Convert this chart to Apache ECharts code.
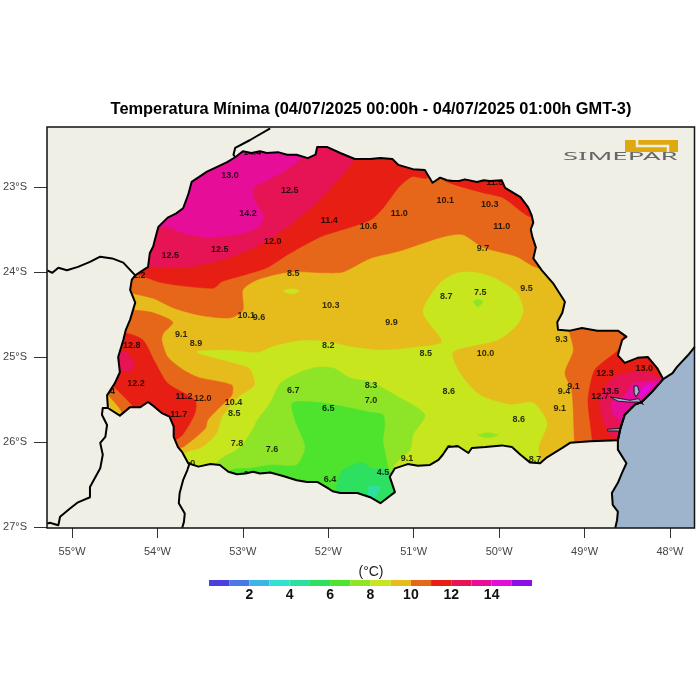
<!DOCTYPE html>
<html>
<head>
<meta charset="utf-8">
<script src="https://cdn.jsdelivr.net/npm/echarts@6/dist/echarts.min.js"></script>
<style>html,body{margin:0;padding:0;background:#fff}#main{width:700px;height:700px}</style>
</head>
<body>
<div id="main"></div>
<script>
var lonMin=-55.293, lonMax=-47.713, latMin=-27.012, latMax=-22.294
var lonTicks=[-55,-54,-53,-52,-51,-50,-49,-48]
var latTicks=[-27,-26,-25,-24,-23]
var barTicks=[2,4,6,8,10,12,14]
var barLevels=[0,1,2,3,4,5,6,7,8,9,10,11,12,13,14,15]
var levelColors=['#4a3fe0','#4a78e6','#3cb4e8','#32e0d2','#2ee0a0','#2ee05f','#4ee32c','#8ee528','#c8e61e','#e6bc1c','#e6671a','#e61e14','#e61454','#e60e98','#e00ed8','#8c0ee6']

//limite do estado
var stateBorder=[[-54.26,-24.04],[-54.11,-23.94],[-54.09,-23.78],[-54.05,-23.70],[-54.03,-23.62],[-53.99,-23.47],[-53.88,-23.36],[-53.78,-23.31],[-53.70,-23.25],[-53.64,-23.09],[-53.60,-22.94],[-53.42,-22.82],[-53.19,-22.71],[-53.09,-22.65],[-53.00,-22.58],[-52.90,-22.60],[-52.80,-22.58],[-52.72,-22.60],[-52.59,-22.59],[-52.48,-22.62],[-52.37,-22.62],[-52.24,-22.66],[-52.15,-22.62],[-52.13,-22.53],[-52.01,-22.53],[-51.86,-22.60],[-51.69,-22.67],[-51.51,-22.67],[-51.39,-22.66],[-51.25,-22.67],[-51.18,-22.74],[-51.01,-22.79],[-50.87,-22.80],[-50.78,-22.95],[-50.69,-22.89],[-50.61,-22.92],[-50.54,-22.93],[-50.47,-22.93],[-50.40,-22.91],[-50.26,-22.94],[-50.18,-22.92],[-50.11,-22.93],[-49.97,-22.92],[-49.93,-23.01],[-49.75,-23.12],[-49.66,-23.24],[-49.62,-23.33],[-49.60,-23.42],[-49.63,-23.50],[-49.61,-23.59],[-49.57,-23.71],[-49.60,-23.84],[-49.50,-23.98],[-49.37,-24.13],[-49.23,-24.35],[-49.26,-24.48],[-49.32,-24.59],[-49.31,-24.68],[-49.17,-24.69],[-49.03,-24.66],[-48.85,-24.69],[-48.61,-24.69],[-48.51,-24.76],[-48.56,-24.80],[-48.61,-24.98],[-48.53,-25.07],[-48.38,-25.01],[-48.26,-25.00],[-48.15,-25.13],[-48.08,-25.26],[-48.21,-25.41],[-48.33,-25.53],[-48.41,-25.56],[-48.53,-25.68],[-48.58,-25.84],[-48.61,-25.98],[-48.93,-25.99],[-49.17,-26.01],[-49.26,-26.07],[-49.44,-26.18],[-49.52,-26.25],[-49.64,-26.24],[-49.75,-26.15],[-49.85,-26.06],[-49.97,-26.04],[-50.16,-26.06],[-50.32,-26.07],[-50.36,-26.13],[-50.48,-26.05],[-50.60,-26.06],[-50.66,-26.15],[-50.71,-26.21],[-50.81,-26.27],[-50.95,-26.28],[-51.07,-26.26],[-51.22,-26.31],[-51.28,-26.41],[-51.22,-26.59],[-51.39,-26.72],[-51.51,-26.65],[-51.66,-26.60],[-51.86,-26.60],[-51.95,-26.58],[-52.01,-26.54],[-52.13,-26.47],[-52.25,-26.47],[-52.37,-26.45],[-52.53,-26.40],[-52.68,-26.36],[-52.80,-26.37],[-52.88,-26.35],[-52.97,-26.37],[-53.07,-26.38],[-53.17,-26.35],[-53.27,-26.27],[-53.38,-26.26],[-53.52,-26.29],[-53.64,-26.25],[-53.71,-26.12],[-53.76,-26.06],[-53.81,-25.94],[-53.81,-25.82],[-53.86,-25.70],[-53.95,-25.66],[-54.03,-25.59],[-54.11,-25.53],[-54.20,-25.59],[-54.32,-25.59],[-54.44,-25.69],[-54.58,-25.60],[-54.59,-25.45],[-54.50,-25.31],[-54.44,-25.18],[-54.46,-25.00],[-54.40,-24.80],[-54.37,-24.68],[-54.32,-24.56],[-54.26,-24.36],[-54.32,-24.21],[-54.30,-24.09],[-54.26,-24.04]]
var paraguayBorder=[[-54.26,-24.04],[-54.40,-23.89],[-54.53,-23.84],[-54.67,-23.82],[-54.79,-23.88],[-54.93,-23.94],[-55.06,-23.98],[-55.16,-23.95],[-55.23,-24.01],[-55.29,-23.98]]
var msBorder=[[-53.09,-22.65],[-53.11,-22.62],[-53.09,-22.54],[-52.92,-22.45],[-52.68,-22.31]]
var argBorder=[[-54.58,-25.60],[-54.64,-25.60],[-54.65,-25.68],[-54.59,-25.80],[-54.61,-25.94],[-54.67,-26.01],[-54.64,-26.15],[-54.67,-26.31],[-54.79,-26.53],[-54.79,-26.65],[-54.93,-26.71],[-55.02,-26.78],[-55.14,-26.88],[-55.16,-26.98],[-55.26,-26.95],[-55.29,-26.96]]
var scBorder=[[-53.62,-26.24],[-53.65,-26.33],[-53.70,-26.45],[-53.74,-26.60],[-53.75,-26.72],[-53.68,-26.84],[-53.69,-26.94],[-53.71,-27.01]]
var coastLine=[[-47.71,-24.88],[-47.79,-24.98],[-47.92,-25.12],[-47.97,-25.19],[-48.08,-25.26],[-48.21,-25.41],[-48.33,-25.53],[-48.41,-25.56],[-48.53,-25.68],[-48.58,-25.84],[-48.61,-25.98],[-48.61,-26.09],[-48.51,-26.25],[-48.56,-26.36],[-48.61,-26.48],[-48.68,-26.60],[-48.67,-26.74],[-48.61,-26.82],[-48.62,-26.92],[-48.64,-27.01]]
var oceanCorner=[[-47.713,-27.012],[-47.713,-24.88]]
var paranaguaBay=[[-48.70,-25.47],[-48.58,-25.49],[-48.47,-25.51],[-48.37,-25.49],[-48.31,-25.56],[-48.37,-25.53],[-48.49,-25.53],[-48.61,-25.52]]
var laranjeirasBay=[[-48.42,-25.34],[-48.38,-25.34],[-48.36,-25.41],[-48.40,-25.47],[-48.42,-25.42]]
var guaratubaBay=[[-48.73,-25.85],[-48.58,-25.84],[-48.58,-25.87],[-48.73,-25.87]]

//isotermas
var baseArea=[[lonMin,latMax],[lonMax,latMax],[lonMax,latMin],[lonMin,latMin]]
var north10=[[-54.67,-24.07],[-54.32,-24.24],[-54.05,-24.31],[-53.82,-24.42],[-53.50,-24.51],[-53.15,-24.54],[-53.00,-24.45],[-53.00,-24.21],[-52.83,-24.09],[-52.45,-24.00],[-52.01,-24.01],[-51.83,-24.00],[-51.51,-23.84],[-51.19,-23.76],[-50.67,-23.59],[-50.43,-23.56],[-50.19,-23.71],[-49.79,-23.82],[-49.58,-23.94],[-49.2,-24.0],[-49.2,-22.4],[-54.7,-22.4]]
var north11=[[-54.7,-23.9],[-54.20,-24.04],[-53.93,-24.13],[-53.35,-24.19],[-53.24,-24.11],[-53.00,-24.04],[-52.72,-23.95],[-52.45,-23.78],[-52.10,-23.59],[-51.86,-23.51],[-51.51,-23.39],[-51.36,-23.25],[-51.18,-23.01],[-51.02,-22.88],[-50.84,-22.89],[-50.8,-22.4],[-54.7,-22.4]]
var northEast11=[[-50.69,-22.89],[-50.22,-23.06],[-49.95,-23.13],[-49.64,-23.35],[-49.4,-23.3],[-49.4,-22.6],[-50.69,-22.6]]
var north12=[[-54.7,-23.9],[-54.09,-23.94],[-53.89,-23.95],[-53.62,-23.94],[-53.19,-23.84],[-52.80,-23.68],[-52.41,-23.42],[-52.10,-23.15],[-51.69,-22.67],[-51.6,-22.4],[-54.7,-22.4]]
var north13=[[-53.89,-23.47],[-53.70,-23.54],[-53.42,-23.59],[-53.07,-23.56],[-52.83,-23.48],[-52.76,-23.36],[-52.88,-23.12],[-52.88,-23.01],[-52.56,-22.84],[-52.30,-22.64],[-52.2,-22.4],[-54.7,-22.4],[-54.7,-23.4]]
var west10=[[-54.67,-24.45],[-54.26,-24.45],[-54.05,-24.48],[-53.82,-24.59],[-53.93,-24.72],[-53.95,-24.80],[-53.88,-25.00],[-53.70,-25.15],[-53.52,-25.24],[-53.13,-25.33],[-53.13,-25.45],[-53.30,-25.62],[-53.41,-25.74],[-53.44,-25.84],[-53.70,-26.06],[-53.76,-26.06],[-54.20,-25.86],[-54.67,-25.74]]
var westWedge9=[[-54.67,-25.33],[-54.58,-25.45],[-54.44,-25.62],[-54.38,-25.80],[-54.73,-25.80]]
var west11=[[-54.61,-24.80],[-54.50,-24.72],[-54.36,-24.72],[-54.17,-24.80],[-54.03,-25.06],[-53.88,-25.31],[-53.56,-25.51],[-53.56,-25.66],[-53.71,-25.92],[-53.82,-25.98],[-53.97,-25.80],[-54.26,-25.62],[-54.32,-25.54],[-54.51,-25.35],[-54.61,-25.27]]
var west12=[[-54.55,-24.94],[-54.41,-24.94],[-54.36,-24.95],[-54.27,-25.07],[-54.32,-25.18],[-54.41,-25.16],[-54.55,-25.15]]
var east10=[[-49.18,-24.56],[-49.18,-24.69],[-49.13,-24.92],[-49.23,-25.19],[-49.15,-25.39],[-49.12,-25.98],[-49.12,-26.15],[-47.9,-26.15],[-47.9,-24.56]]
var east11=[[-48.76,-25.04],[-48.88,-25.15],[-48.93,-25.31],[-48.96,-25.53],[-48.91,-25.98],[-48.91,-26.15],[-47.9,-26.15],[-47.9,-24.7],[-48.5,-24.7],[-48.61,-24.92]]
var east12=[[-48.73,-25.31],[-48.62,-25.21],[-48.38,-25.18],[-48.21,-25.19],[-48.11,-25.26],[-47.9,-25.3],[-48.0,-26.1],[-48.61,-26.1],[-48.61,-25.96],[-48.70,-25.92],[-48.79,-25.72],[-48.82,-25.47]]
var east13=[[-48.68,-25.53],[-48.53,-25.45],[-48.43,-25.31],[-48.23,-25.29],[-48.06,-25.25],[-48.00,-25.51],[-48.35,-25.86],[-48.56,-25.84],[-48.58,-25.76],[-48.67,-25.65]]
var east14=[[-48.36,-25.44],[-48.30,-25.35],[-48.20,-25.32],[-48.26,-25.41],[-48.33,-25.47]]
var below9=[[-53.70,-26.15],[-53.47,-26.06],[-53.30,-25.89],[-53.24,-25.71],[-53.06,-25.48],[-52.86,-25.33],[-52.92,-25.13],[-53.03,-25.09],[-53.54,-24.94],[-53.19,-24.92],[-52.83,-24.95],[-52.65,-24.88],[-52.33,-24.81],[-52.01,-24.82],[-51.74,-24.88],[-51.39,-24.92],[-51.01,-24.89],[-50.67,-24.82],[-50.89,-24.47],[-50.69,-24.13],[-50.48,-24.01],[-50.26,-24.01],[-50.02,-24.09],[-49.79,-24.25],[-49.72,-24.45],[-49.79,-24.62],[-50.02,-24.80],[-50.54,-24.94],[-50.46,-25.19],[-50.22,-25.45],[-49.87,-25.56],[-49.60,-25.54],[-49.44,-25.78],[-49.54,-26.06],[-49.52,-26.33],[-50.0,-26.8],[-53.0,-26.8],[-53.8,-26.4]]
var spot8=[[-52.53,-24.22],[-52.42,-24.20],[-52.34,-24.22],[-52.42,-24.26]]
var below8=[[-53.30,-26.24],[-53.03,-26.06],[-52.88,-25.84],[-52.83,-25.74],[-52.68,-25.54],[-52.56,-25.31],[-52.33,-25.18],[-52.13,-25.12],[-51.94,-25.13],[-51.74,-25.25],[-51.51,-25.29],[-51.16,-25.48],[-50.87,-25.68],[-51.01,-25.92],[-51.04,-26.09],[-51.14,-26.18],[-51.24,-26.31],[-51.0,-26.8],[-53.4,-26.6]]
var spot7a=[[-50.25,-25.92],[-50.13,-25.89],[-50.01,-25.92],[-50.13,-25.95]]
var spot7b=[[-50.30,-24.35],[-50.25,-24.32],[-50.19,-24.35],[-50.25,-24.41]]
var below7=[[-52.42,-25.54],[-52.06,-25.54],[-51.51,-25.65],[-51.36,-25.68],[-51.34,-25.82],[-51.36,-25.98],[-51.31,-26.25],[-51.28,-26.35],[-51.1,-26.8],[-53.2,-26.7],[-53.15,-26.34],[-52.92,-26.31],[-52.65,-26.27],[-52.37,-26.27],[-52.27,-26.06],[-52.39,-25.74]]
var below6=[[-51.89,-26.45],[-51.83,-26.33],[-51.60,-26.24],[-51.49,-26.31],[-51.30,-26.33],[-51.1,-26.8],[-51.9,-26.8]]
var below5=[[-51.53,-26.53],[-51.39,-26.53],[-51.43,-26.62],[-51.51,-26.68]]
var bands=[[9,baseArea],[10,north10],[11,north11],[11,northEast11],[12,north12],[13,north13],[10,west10],[9,westWedge9],[11,west11],[12,west12],[10,east10],[11,east11],[12,east12],[13,east13],[14,east14],[8,below9],[8,spot8],[7,below8],[7,spot7a],[7,spot7b],[6,below7],[5,below6],[4,below5]]

//estacoes
var stationLon=[-52.89,-53.15,-52.45,-52.94,-51.99,-51.17,-51.53,-52.65,-53.27,-53.85,-50.63,-50.11,-49.97,-50.05,-50.19,-52.41,-50.62,-50.22,-49.68,-51.97,-52.96,-52.81,-51.26,-53.72,-53.55,-54.30,-52.00,-50.86,-50.16,-49.27,-54.25,-52.41,-51.50,-49.13,-48.76,-48.30,-48.70,-48.82,-49.24,-50.59,-51.50,-53.69,-53.47,-53.11,-53.10,-52.00,-49.29,-53.75,-49.77,-53.07,-52.66,-51.08,-49.58,-51.36,-51.98,-54.24,-54.60,-53.63,-50.54,-52.92]
var stationLat=[-22.60,-22.87,-23.04,-23.31,-23.40,-23.31,-23.47,-23.64,-23.74,-23.81,-23.16,-23.21,-23.46,-22.95,-23.72,-24.02,-24.29,-24.24,-24.19,-24.39,-24.51,-24.53,-24.59,-24.74,-24.84,-24.87,-24.86,-24.96,-24.96,-24.79,-25.31,-25.39,-25.34,-25.35,-25.20,-25.14,-25.41,-25.47,-25.41,-25.41,-25.51,-25.47,-25.49,-25.53,-25.66,-25.61,-25.61,-25.68,-25.74,-26.02,-26.09,-26.20,-26.21,-26.36,-26.44,-24.04,-25.41,-26.25,-26.08,-26.38]
var stationTemp=[14.4,13.0,12.5,14.2,11.4,11.0,10.6,12.0,12.5,12.5,10.1,10.3,11.0,11.5,9.7,8.5,8.7,7.5,9.5,10.3,10.1,9.6,9.9,9.1,8.9,12.8,8.2,8.5,10.0,9.3,12.2,6.7,8.3,9.1,12.3,13.0,13.5,12.7,9.4,8.6,7.0,11.2,12.0,10.4,8.5,6.5,9.1,11.7,8.6,7.8,7.6,9.1,8.7,4.5,6.4,11.2,10.4,9.0,9.0,6.3]

var fontName='"Liberation Sans", Arial, sans-serif'

//anel externo com o estado como furo (sentido inverso)
function outside_ring(){
    var corners=[[lonMin,latMax],[lonMax,latMax],[lonMax,latMin],[lonMin,latMin],[lonMin,latMax]]
    var hole=stateBorder.slice().reverse()
    return corners.concat(hole).concat([[lonMin,latMax]])
}
function polygon_series(rings,fill,stroke,lineWidth,z){
    return {
        type:'custom',
        coordinateSystem:'cartesian2d',
        xAxisIndex:0,
        yAxisIndex:0,
        clip:true,
        silent:true,
        z:z,
        data:rings.map(function(r,i){return [i]}),
        renderItem:function(params,api){
            var idx=api.value(0)
            return {
                type:'polygon',
                shape:{points:rings[idx].map(function(p){return api.coord(p)})},
                style:{fill:fill,stroke:stroke,lineWidth:lineWidth}
            }
        }
    }
}
function line_series(points,z){
    return {
        type:'line',
        xAxisIndex:0,
        yAxisIndex:0,
        data:points,
        showSymbol:false,
        silent:true,
        z:z,
        lineStyle:{color:'#000',width:2,join:'round'}
    }
}

var stationData=[]
for(var i=0;i<stationTemp.length;i++){
    stationData.push([stationLon[i],stationLat[i],stationTemp[i]])
}

var series=[
    {
        type:'custom',
        coordinateSystem:'cartesian2d',
        xAxisIndex:0,
        yAxisIndex:0,
        clip:true,
        silent:true,
        z:1,
        data:bands.map(function(b,i){return [i]}),
        renderItem:function(params,api){
            var idx=api.value(0)
            var b=bands[idx]
            var c=levelColors[b[0]]
            return {
                type:'polygon',
                shape:{points:b[1].map(function(p){return api.coord(p)}),smooth:idx==0?0:0.25},
                style:{fill:c,stroke:c,lineWidth:0.5}
            }
        }
    },
    {
        type:'scatter',
        xAxisIndex:0,
        yAxisIndex:0,
        symbolSize:0,
        silent:true,
        z:2,
        data:stationData,
        label:{
            show:true,
            position:'inside',
            color:'#000',
            fontFamily:fontName,
            fontWeight:'bold',
            fontSize:9,
            formatter:function(p){return p.value[2].toFixed(1)}
        }
    },
    polygon_series([outside_ring()],'#f0efe6','none',0,3),
    polygon_series([coastLine.concat(oceanCorner)],'#9db4cc','none',0,4),
    polygon_series([paranaguaBay,laranjeirasBay,guaratubaBay],'#9db4cc','#000',0.8,5),
    line_series(stateBorder,6),
    line_series(paraguayBorder,6),
    line_series(msBorder,6),
    line_series(argBorder,6),
    line_series(scBorder,6),
    line_series(coastLine,6),
    {
        type:'custom',
        coordinateSystem:'cartesian2d',
        xAxisIndex:1,
        yAxisIndex:1,
        silent:true,
        data:barLevels.map(function(l){return [l,l+1]}),
        renderItem:function(params,api){
            var a=api.coord([api.value(0),1])
            var b=api.coord([api.value(1),0])
            return {
                type:'rect',
                shape:{x:a[0],y:a[1],width:b[0]-a[0],height:b[1]-a[1]},
                style:{fill:levelColors[api.value(0)]}
            }
        }
    }
]

var option={
    backgroundColor:'#fff',
    animation:false,
    title:[
        {
            text:'Temperatura Mínima (04/07/2025 00:00h - 04/07/2025 01:00h GMT-3)',
            left:366,
            top:96,
            textAlign:'center',
            textStyle:{fontFamily:fontName,fontWeight:'bold',fontSize:16.4,color:'#000'}
        },
        {
            text:'(°C)',
            left:366,
            top:560,
            textAlign:'center',
            textStyle:{fontFamily:fontName,fontWeight:'normal',fontSize:14,color:'#222'}
        }
    ],
    grid:[
        {left:47,top:127,width:647.5,height:401,show:true,backgroundColor:'#f0efe6',borderWidth:0},
        {left:209,top:580,width:323,height:6}
    ],
    xAxis:[
        {
            type:'value',
            gridIndex:0,
            min:lonMin,
            max:lonMax,
            splitLine:{show:false},
            axisLine:{show:false},
            axisTick:{show:true,customValues:lonTicks,length:10,lineStyle:{color:'#333',width:1}},
            axisLabel:{
                customValues:lonTicks,
                margin:18,
                color:'#444',
                fontFamily:fontName,
                fontSize:11,
                formatter:function(v){return Math.abs(v)+'°W'}
            }
        },
        {
            type:'value',
            gridIndex:1,
            min:0,
            max:16,
            splitLine:{show:false},
            axisLine:{show:false},
            axisTick:{show:false},
            axisLabel:{
                customValues:barTicks,
                margin:2,
                color:'#111',
                fontFamily:fontName,
                fontWeight:'bold',
                fontSize:14
            }
        }
    ],
    yAxis:[
        {
            type:'value',
            gridIndex:0,
            min:latMin,
            max:latMax,
            splitLine:{show:false},
            axisLine:{show:false},
            axisTick:{show:true,customValues:latTicks,length:13,lineStyle:{color:'#333',width:1}},
            axisLabel:{
                customValues:latTicks,
                margin:20,
                color:'#444',
                fontFamily:fontName,
                fontSize:11,
                formatter:function(v){return Math.abs(v)+'°S'}
            }
        },
        {
            type:'value',
            gridIndex:1,
            min:0,
            max:1,
            show:false
        }
    ],
    series:series,
    graphic:[
        {type:'rect',z:100,silent:true,shape:{x:47,y:127,width:647.5,height:401},style:{fill:null,stroke:'#111',lineWidth:1.5}},
        {type:'rect',z:101,silent:true,shape:{x:625,y:140,width:53,height:12},style:{fill:'#e0a80f'}},
        {type:'polyline',z:102,silent:true,shape:{points:[[637,140],[637,146],[668,146],[668,152]]},style:{fill:null,stroke:'#f0efe6',lineWidth:2.5}},
        {type:'text',z:103,silent:true,x:563,y:151,scaleX:2.5,scaleY:1,style:{text:'SIMEPAR',fill:'#666',fontFamily:'Noto Sans',fontSize:11,fontWeight:'normal'}}
    ]
}

var myChart=echarts.init(document.getElementById('main'))
myChart.setOption(option)
</script>
</body>
</html>
